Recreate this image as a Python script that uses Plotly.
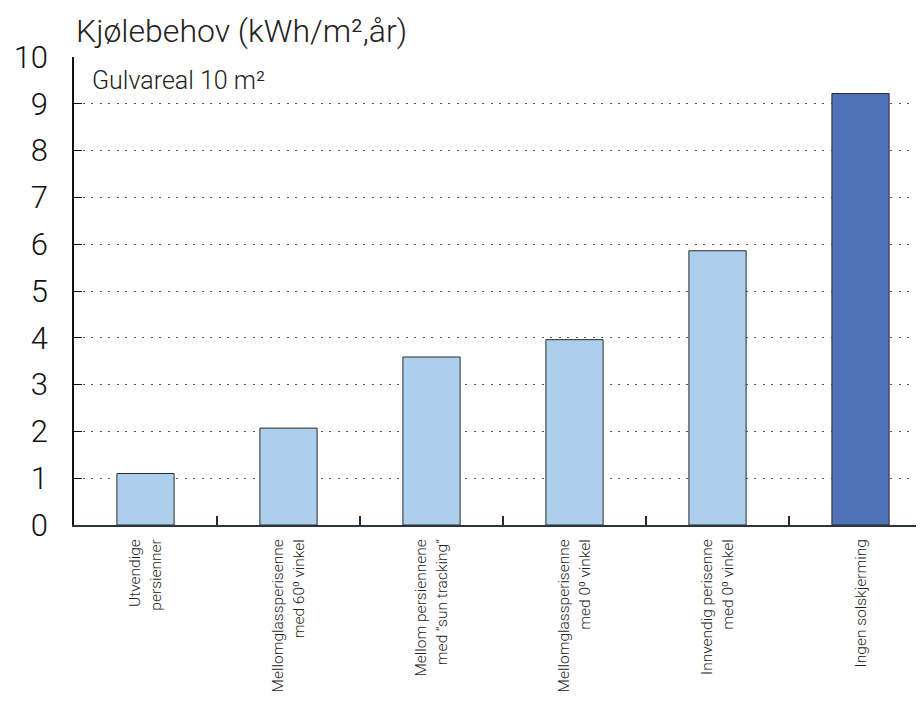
import plotly.graph_objects as go

categories = [
    "Utvendige<br>persienner",
    "Mellomglassperisenne<br>med 60⁰ vinkel",
    "Mellom persiennene<br>med “sun tracking”",
    "Mellomglassperisenne<br>med 0⁰ vinkel",
    "Innvendig perisenne<br>med 0⁰ vinkel",
    "Ingen solskjerming",
]
values = [1.1, 2.07, 3.59, 3.96, 5.86, 9.22]
bar_colors = ["#abcfed", "#abcfed", "#abcfed", "#abcfed", "#abcfed", "#4f72b8"]
y_ticks = list(range(0, 11))

FONT = "Roboto"
W, H = 908, 686  # page body margin of 8px around the figure

fig = go.Figure()
fig.add_trace(go.Bar(
    x=categories,
    y=values,
    width=0.4,
    marker=dict(color=bar_colors, line=dict(color="#2a2a2a", width=1)),
    hoverinfo="skip",
))

fig.update_layout(
    width=W, height=H,
    margin=dict(l=66, r=0, t=49, b=169),
    paper_bgcolor="white", plot_bgcolor="white",
    showlegend=False,
    font=dict(family=FONT, color="#222222", weight=300),
)
fig.update_xaxes(
    type="category",
    range=[-0.5, 5.388],
    tickangle=-90,
    tickfont=dict(size=15.5, family=FONT, color="#222222", weight=300),
    showgrid=False,
    showline=True, linecolor="#2d3440", linewidth=2,
    ticks="inside", tickson="boundaries", ticklen=9, tickcolor="#2a2a2a", tickwidth=1.5,
    ticklabelstandoff=6,
    zeroline=False,
    automargin=False,
)
fig.update_yaxes(
    range=[0, 10],
    tickmode="array", tickvals=y_ticks,
    tickfont=dict(size=31, family=FONT, color="#111111", weight=300),
    showgrid=True, gridcolor="#555555", griddash="2px,6.5px", gridwidth=1.2,
    showline=True, linecolor="#111111", linewidth=1.5,
    ticks="inside", ticklen=8, tickcolor="#111111",
    ticklabelstandoff=18,
    zeroline=False,
    automargin=False,
)
fig.add_annotation(
    xref="paper", yref="paper", x=0.0, y=1.0, yshift=5,
    xanchor="left", yanchor="bottom",
    text="Kjølebehov (kWh/m²,år)",
    showarrow=False, font=dict(size=32, family=FONT, color="#222222", weight=300),
)
fig.add_annotation(
    xref="paper", yref="paper", x=0.0, y=1.0, xshift=16, yshift=-7,
    xanchor="left", yanchor="top",
    text="Gulvareal 10 m²",
    showarrow=False, font=dict(size=25, family=FONT, color="#222222", weight=300),
)

fig.write_html("out.html")
